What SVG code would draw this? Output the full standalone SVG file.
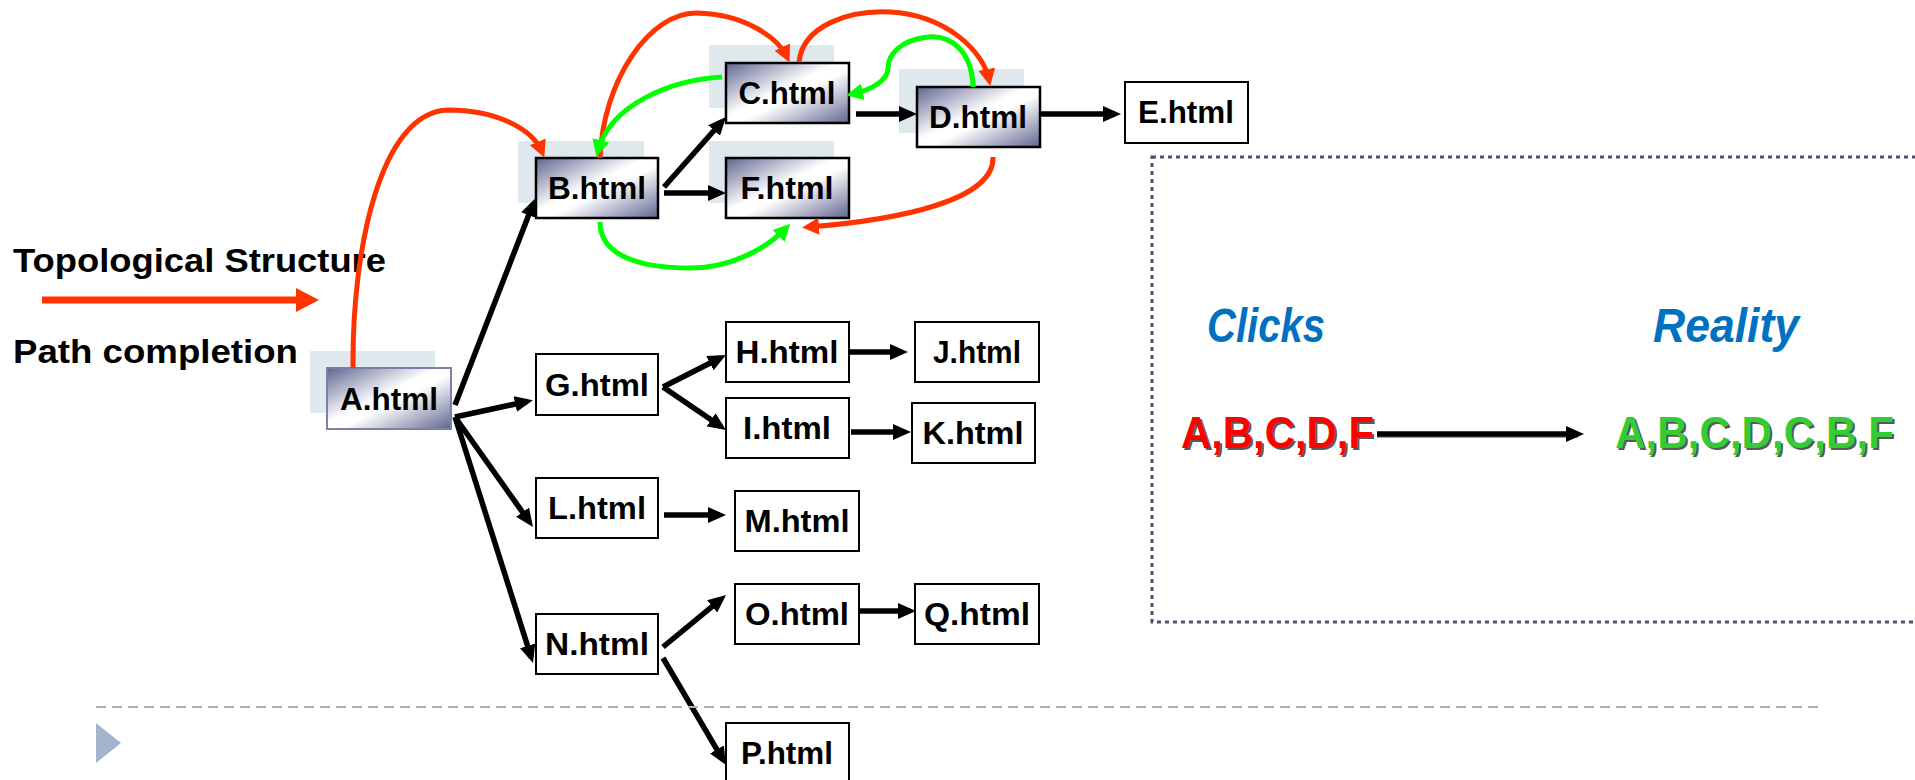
<svg xmlns="http://www.w3.org/2000/svg" width="1915" height="780" viewBox="0 0 1915 780">
<style>
.sh{fill:#dfe8ec}
.gn{fill:url(#grad);stroke:#000;stroke-width:2.5}
.wn{fill:#fff;stroke:#000;stroke-width:2}
.lbl{font-family:"Liberation Sans",Arial,sans-serif;font-weight:bold;font-size:31px;fill:#000;text-anchor:middle}
.blk{fill:none;stroke:#000;stroke-width:5.5;marker-end:url(#ab)}
.red{fill:none;stroke:#ff3300;stroke-width:5;marker-end:url(#ar)}
.grn{fill:none;stroke:#00ff00;stroke-width:5;marker-end:url(#ag)}
.leg{font-family:"Liberation Sans",Arial,sans-serif;font-weight:bold;font-size:34px;fill:#000}
.hd{font-family:"Liberation Sans",Arial,sans-serif;font-weight:bold;font-style:italic;font-size:48px;fill:#0070c0}
.seq{font-family:"Liberation Sans",Arial,sans-serif;font-weight:bold;font-size:44px}
</style>
<defs>
<linearGradient id="grad" x1="0" y1="0" x2="1" y2="1">
<stop offset="0" stop-color="#5f6590"/>
<stop offset="0.45" stop-color="#ffffff"/>
<stop offset="0.55" stop-color="#ffffff"/>
<stop offset="1" stop-color="#5f6590"/>
</linearGradient>
<marker id="ab" markerUnits="userSpaceOnUse" markerWidth="18" markerHeight="16" refX="12" refY="8" orient="auto"><path d="M0,0 L18,8 L0,16 z" fill="#000"/></marker>
<marker id="ar" markerUnits="userSpaceOnUse" markerWidth="17" markerHeight="17" refX="11" refY="8.5" orient="auto"><path d="M0,0 L17,8.5 L0,17 z" fill="#ff3300"/></marker>
<marker id="ag" markerUnits="userSpaceOnUse" markerWidth="17" markerHeight="17" refX="11" refY="8.5" orient="auto"><path d="M0,0 L17,8.5 L0,17 z" fill="#00ff00"/></marker>
</defs>
<rect width="1915" height="780" fill="#fff"/>

<g id="legend">
<text class="leg" x="13" y="272" textLength="373" lengthAdjust="spacingAndGlyphs">Topological Structure</text>
<path d="M42 300 H300" stroke="#ff3300" stroke-width="7"/>
<polygon points="296,288 319,300 296,312" fill="#ff3300"/>
<text class="leg" x="13" y="363" textLength="285" lengthAdjust="spacingAndGlyphs">Path completion</text>
</g>

<g id="nodeA"><rect class="sh" x="310" y="351" width="125" height="62"/><rect x="327" y="368" width="124" height="61" fill="url(#grad)" stroke="#7a80a8" stroke-width="2"/><text class="lbl" x="389" y="410" textLength="98" lengthAdjust="spacingAndGlyphs">A.html</text></g>
<g id="nodeB"><rect class="sh" x="518" y="141" width="126" height="62"/><rect class="gn" x="536" y="158" width="122" height="60"/><text class="lbl" x="597" y="199" textLength="98" lengthAdjust="spacingAndGlyphs">B.html</text></g>
<g id="nodeC"><rect class="sh" x="709" y="45" width="125" height="63"/><rect class="gn" x="726" y="63" width="123" height="60"/><text class="lbl" x="787" y="104" textLength="97" lengthAdjust="spacingAndGlyphs">C.html</text></g>
<g id="nodeF"><rect class="sh" x="709" y="141" width="125" height="62"/><rect class="gn" x="726" y="158" width="123" height="60"/><text class="lbl" x="787" y="199" textLength="93" lengthAdjust="spacingAndGlyphs">F.html</text></g>
<g id="nodeD"><rect class="sh" x="899" y="69" width="125" height="64"/><rect class="gn" x="917" y="87" width="123" height="60"/><text class="lbl" x="978" y="128" textLength="98" lengthAdjust="spacingAndGlyphs">D.html</text></g>
<g id="nodeE"><rect class="wn" x="1125" y="82" width="123" height="61"/><text class="lbl" x="1186" y="123" textLength="96" lengthAdjust="spacingAndGlyphs">E.html</text></g>
<g id="nodeG"><rect class="wn" x="536" y="354" width="122" height="61"/><text class="lbl" x="597" y="396" textLength="104" lengthAdjust="spacingAndGlyphs">G.html</text></g>
<g id="nodeL"><rect class="wn" x="536" y="478" width="122" height="60"/><text class="lbl" x="597" y="519" textLength="98" lengthAdjust="spacingAndGlyphs">L.html</text></g>
<g id="nodeN"><rect class="wn" x="536" y="614" width="122" height="60"/><text class="lbl" x="597" y="655" textLength="104" lengthAdjust="spacingAndGlyphs">N.html</text></g>
<g id="nodeH"><rect class="wn" x="726" y="322" width="123" height="60"/><text class="lbl" x="787" y="363" textLength="103" lengthAdjust="spacingAndGlyphs">H.html</text></g>
<g id="nodeI"><rect class="wn" x="726" y="398" width="123" height="60"/><text class="lbl" x="787" y="439" textLength="88" lengthAdjust="spacingAndGlyphs">I.html</text></g>
<g id="nodeJ"><rect class="wn" x="915" y="322" width="124" height="60"/><text class="lbl" x="977" y="363" textLength="88" lengthAdjust="spacingAndGlyphs">J.html</text></g>
<g id="nodeK"><rect class="wn" x="912" y="403" width="123" height="60"/><text class="lbl" x="973" y="444" textLength="101" lengthAdjust="spacingAndGlyphs">K.html</text></g>
<g id="nodeM"><rect class="wn" x="735" y="491" width="124" height="60"/><text class="lbl" x="797" y="532" textLength="105" lengthAdjust="spacingAndGlyphs">M.html</text></g>
<g id="nodeO"><rect class="wn" x="735" y="584" width="124" height="60"/><text class="lbl" x="797" y="625" textLength="104" lengthAdjust="spacingAndGlyphs">O.html</text></g>
<g id="nodeQ"><rect class="wn" x="915" y="584" width="124" height="60"/><text class="lbl" x="977" y="625" textLength="106" lengthAdjust="spacingAndGlyphs">Q.html</text></g>
<g id="nodeP"><rect class="wn" x="726" y="723" width="123" height="60"/><text class="lbl" x="787" y="764" textLength="92" lengthAdjust="spacingAndGlyphs">P.html</text></g>

<g id="connectors">
<path class="blk" d="M455 405 L533 204"/>
<path class="blk" d="M455 417 L527 401.5"/>
<path class="blk" d="M455 417 L529.5 522"/>
<path class="blk" d="M455 417 L531.2 657.3"/>
<path class="blk" d="M664 187 L722 121.5"/>
<path class="blk" d="M664 193 L720 193"/>
<path class="blk" d="M856 114 L911 114"/>
<path class="blk" d="M1040 114 L1115 114"/>
<path class="blk" d="M663 387 L720.6 357.8"/>
<path class="blk" d="M663 387 L721 426.6"/>
<path class="blk" d="M849 352 L902 352"/>
<path class="blk" d="M851 432 L905 432"/>
<path class="blk" d="M664 515 L720 515"/>
<path class="blk" d="M663 647 L721.4 598.8"/>
<path class="blk" d="M663 658 L723 759.8"/>
<path class="blk" d="M859 611 L910 611"/>
<path class="red" d="M353 368 C352 250 380 112 448 110 C495 110 532 128 542 152"/>
<path class="red" d="M600 158 C603 80 650 12 697 13 C745 14 778 38 787 57"/>
<path class="red" d="M799 62 C803 25 850 10 890 12 C945 15 983 50 989 80"/>
<path class="red" d="M993 157 C995 200 900 220 808 227"/>
<path class="grn" d="M722 77 C670 80 610 105 598 151"/>
<path class="grn" d="M973 87 C972 50 950 35 928 37 C900 40 888 55 888 68 C888 80 872 90 852 94"/>
<path class="grn" d="M600 222 C600 258 645 268 690 268 C735 268 770 245 786 228"/>
</g>

<g id="summary">
<rect x="1152" y="157" width="800" height="465" fill="none" stroke="#4a5070" stroke-width="3" stroke-dasharray="4 4"/>
<text class="hd" x="1207" y="342" textLength="118" lengthAdjust="spacingAndGlyphs">Clicks</text>
<text class="hd" x="1653" y="342" textLength="146" lengthAdjust="spacingAndGlyphs">Reality</text>
<text class="seq" x="1183" y="450" fill="#222" fill-opacity="0.75" textLength="193" lengthAdjust="spacingAndGlyphs">A,B,C,D,F</text>
<text class="seq" x="1181" y="448" fill="#ff0000" textLength="193" lengthAdjust="spacingAndGlyphs">A,B,C,D,F</text>
<path d="M1377 436 L1578 436" stroke="#999" stroke-width="4"/>
<path class="blk" d="M1377 434 L1578 434" stroke-width="4"/>
<text class="seq" x="1617" y="450" fill="#222" fill-opacity="0.75" textLength="279" lengthAdjust="spacingAndGlyphs">A,B,C,D,C,B,F</text>
<text class="seq" x="1615" y="448" fill="#33cc33" textLength="279" lengthAdjust="spacingAndGlyphs">A,B,C,D,C,B,F</text>
</g>

<g id="footer">
<path d="M96 707 H1823" stroke="#a0b4c8" stroke-width="2" stroke-dasharray="10 6"/>
<polygon points="96,723 121,743 96,763" fill="#a2b5cc"/>
</g>
</svg>
